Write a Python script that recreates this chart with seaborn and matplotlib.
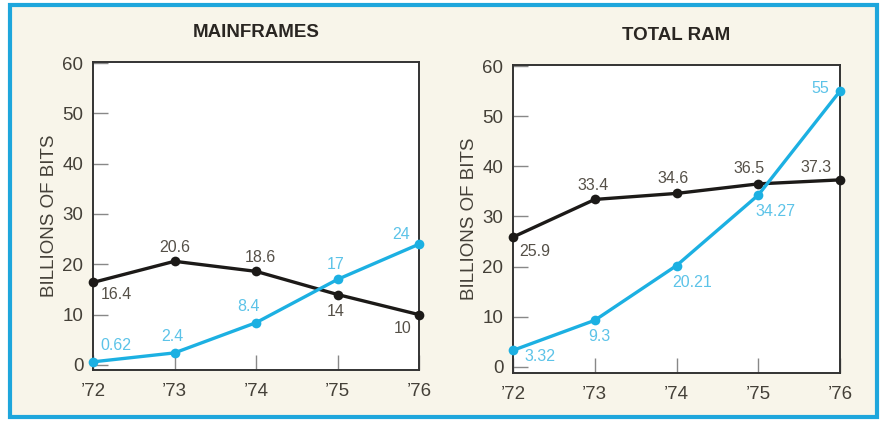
import pandas as pd
import matplotlib
matplotlib.use("Agg")
import matplotlib.pyplot as plt
import matplotlib.patches as patches
import seaborn as sns

# data
years = [72, 73, 74, 75, 76]
year_labels = ["\u201972", "\u201973", "\u201974", "\u201975", "\u201976"]

mainframe_black = [16.4, 20.6, 18.6, 14, 10]
mainframe_cyan = [0.62, 2.4, 8.4, 17, 24]
mainframe_black_txt = ["16.4", "20.6", "18.6", "14", "10"]
mainframe_cyan_txt = ["0.62", "2.4", "8.4", "17", "24"]

ram_black = [25.9, 33.4, 34.6, 36.5, 37.3]
ram_cyan = [3.32, 9.3, 20.21, 34.27, 55]
ram_black_txt = ["25.9", "33.4", "34.6", "36.5", "37.3"]
ram_cyan_txt = ["3.32", "9.3", "20.21", "34.27", "55"]

# label offsets in pixels (dx, dy up)
mf_black_off = [(23, -12), (0, 14), (4, 14), (-2, -17), (-16, -14)]
mf_cyan_off = [(23, 16), (-2, 16), (-7, 16), (-2, 15), (-18, 10)]
ram_black_off = [(22, -14), (-2, 14), (-3, 15), (-9, 15), (-24, 12)]
ram_cyan_off = [(27, -6), (5, -16), (16, -17), (17, -16), (-20, 3)]

BLACK = "#1c1a18"
CYAN = "#1cb0e2"
CYAN_TXT = "#5cc3e8"
GRAY_TXT = "#555048"
CREAM = "#f8f5ea"

sns.set_style("white")
plt.rcParams["font.family"] = ["Liberation Sans", "DejaVu Sans"]

fig = plt.figure(figsize=(8.82, 4.23), dpi=100)
fig.patch.set_facecolor("white")
W, H = 882, 423

# blue frame with cream panel
fig.patches.append(patches.Rectangle((10 / W, 6 / H), 867 / W, 412 / H,
                                     transform=fig.transFigure, facecolor=CREAM,
                                     edgecolor="#1ea6dc", linewidth=3, zorder=-5))


def make_panel(rect_px, title, black, cyan, btxt, ctxt, boff, coff, ylo):
    x0, y0, x1, y1 = rect_px
    ax = fig.add_axes([x0 / W, (H - y1) / H, (x1 - x0) / W, (y1 - y0) / H])
    ax.set_facecolor("white")
    df = pd.DataFrame({
        "year": years * 2,
        "value": black + cyan,
        "series": ["black"] * 5 + ["cyan"] * 5,
    })
    sns.lineplot(data=df, x="year", y="value", hue="series",
                 palette={"black": BLACK, "cyan": CYAN}, marker="o",
                 markersize=7, markeredgewidth=0, linewidth=2.4,
                 legend=False, ax=ax, clip_on=False, zorder=3)
    for lst, txt, off, col in [(black, btxt, boff, GRAY_TXT), (cyan, ctxt, coff, CYAN_TXT)]:
        for xv, yv, t, (dx, dy) in zip(years, lst, txt, off):
            ax.annotate(t, (xv, yv), xytext=(dx, dy), textcoords="offset pixels",
                        ha="center", va="center", fontsize=11.5, color=col)
    ax.set_xlim(72, 76)
    ax.set_ylim(ylo, 60.2)
    ax.set_xticks(years)
    ax.set_xticklabels(year_labels)
    ax.set_yticks([0, 10, 20, 30, 40, 50, 60])
    ax.tick_params(axis="both", direction="in", length=11, width=1,
                   bottom=True, left=True,
                   color="#888", labelcolor="#444038", labelsize=13.5)
    ax.tick_params(axis="x", pad=9)
    ax.tick_params(axis="y", pad=7)
    for s in ax.spines.values():
        s.set_color("#333")
        s.set_linewidth(1.4)
    ax.set_xlabel("")
    ax.set_ylabel("BILLIONS OF BITS", fontsize=13.5, color="#444038", labelpad=3)
    ax.set_title(title, fontsize=13.5, fontweight="bold", color="#2a2622", pad=18)
    return ax


make_panel((93, 62, 419, 370), "MAINFRAMES", mainframe_black, mainframe_cyan,
           mainframe_black_txt, mainframe_cyan_txt, mf_black_off, mf_cyan_off, -1.0)
make_panel((513, 65, 840, 373), "TOTAL RAM", ram_black, ram_cyan,
           ram_black_txt, ram_cyan_txt, ram_black_off, ram_cyan_off, -1.2)

fig.savefig("out.png", dpi=100)
